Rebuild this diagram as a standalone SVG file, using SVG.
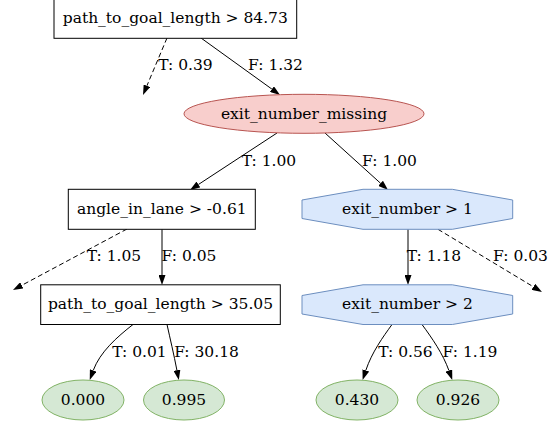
<svg xmlns="http://www.w3.org/2000/svg" width="551" height="423" viewBox="0 0 551 423">
<style>
text{font-family:"DejaVu Serif","Liberation Serif",serif;font-size:15.5px;fill:#000;text-anchor:middle}
.box{fill:#fff;stroke:#000;stroke-width:1}
.red{fill:#f8cecc;stroke:#b85450;stroke-width:1}
.blue{fill:#dae8fc;stroke:#6c8ebf;stroke-width:1}
.green{fill:#d5e8d4;stroke:#82b366;stroke-width:1}
.e{fill:none;stroke:#000;stroke-width:1;marker-end:url(#arr)}
.d{stroke-dasharray:5,3}
</style>
<defs>
<marker id="arr" markerUnits="userSpaceOnUse" viewBox="0 0 10 7" refX="0" refY="3.5" markerWidth="10" markerHeight="7" orient="auto">
<path d="M0,0 L10,3.5 L0,7 z" fill="#000" stroke="none"/>
</marker>
</defs>
<rect width="551" height="423" fill="#fff"/>
<g id="connectors">
<path class="e d" d="M167,38 L146.9,85.8"/>
<path class="e" d="M201,38 L271.9,89.1"/>
<path class="e" d="M277,133 L198.4,184.5"/>
<path class="e" d="M325,133 L380.6,183.3"/>
<path class="e d" d="M127,229 L21.8,285.3"/>
<path class="e" d="M162,229.3 L162,275"/>
<path class="e" d="M408,229.3 L408,275"/>
<path class="e d" d="M438,229.3 L533.4,286.8"/>
<path class="e" d="M133,324.5 C117,337 100,352 93.2,370.5"/>
<path class="e" d="M167,324.5 C170,338 174,355 176.9,370.2"/>
<path class="e" d="M392,324.5 C383,337 372,352 365.8,370.4"/>
<path class="e" d="M422,324.5 C432,338 443,354 448.9,370.5"/>
<text x="185.5" y="70">T: 0.39</text>
<text x="275.5" y="70">F: 1.32</text>
<text x="269" y="166">T: 1.00</text>
<text x="389.5" y="166">F: 1.00</text>
<text x="114" y="261">T: 1.05</text>
<text x="189" y="261">F: 0.05</text>
<text x="434" y="261">T: 1.18</text>
<text x="520.5" y="261">F: 0.03</text>
<text x="139.5" y="357">T: 0.01</text>
<text x="206.5" y="357">F: 30.18</text>
<text x="405.5" y="357">T: 0.56</text>
<text x="470" y="357">F: 1.19</text>
</g>
<g id="root">
<rect class="box" x="54" y="-2" width="242.7" height="40.3"/>
<text x="175.3" y="22.7">path_to_goal_length &gt; 84.73</text>
</g>
<g id="exit_number_missing">
<ellipse class="red" cx="304" cy="113.8" rx="120" ry="19.5"/>
<text x="304" y="118.5">exit_number_missing</text>
</g>
<g id="angle_in_lane">
<rect class="box" x="68.3" y="189.3" width="187" height="40"/>
<text x="161.8" y="214">angle_in_lane &gt; -0.61</text>
</g>
<g id="exit_number_1">
<polygon class="blue" points="363,189.3 452.3,189.3 512.7,200 512.7,218.5 452.3,229.3 363,229.3 302,218.5 302,200"/>
<text x="407.4" y="214">exit_number &gt; 1</text>
</g>
<g id="path_to_goal_35">
<rect class="box" x="40.7" y="284.8" width="239.6" height="39.7"/>
<text x="160.5" y="309">path_to_goal_length &gt; 35.05</text>
</g>
<g id="exit_number_2">
<polygon class="blue" points="363,284.8 452.3,284.8 512.7,295.5 512.7,314 452.3,324.5 363,324.5 302,314 302,295.5"/>
<text x="407.4" y="309">exit_number &gt; 2</text>
</g>
<g id="leaf_0000">
<ellipse class="green" cx="83" cy="400" rx="41" ry="20"/>
<text x="83" y="404.7">0.000</text>
</g>
<g id="leaf_0995">
<ellipse class="green" cx="184" cy="400" rx="40.5" ry="20"/>
<text x="184" y="404.7">0.995</text>
</g>
<g id="leaf_0430">
<ellipse class="green" cx="357" cy="400" rx="41" ry="20"/>
<text x="357" y="404.7">0.430</text>
</g>
<g id="leaf_0926">
<ellipse class="green" cx="458" cy="400" rx="41" ry="20"/>
<text x="458" y="404.7">0.926</text>
</g>
</svg>
